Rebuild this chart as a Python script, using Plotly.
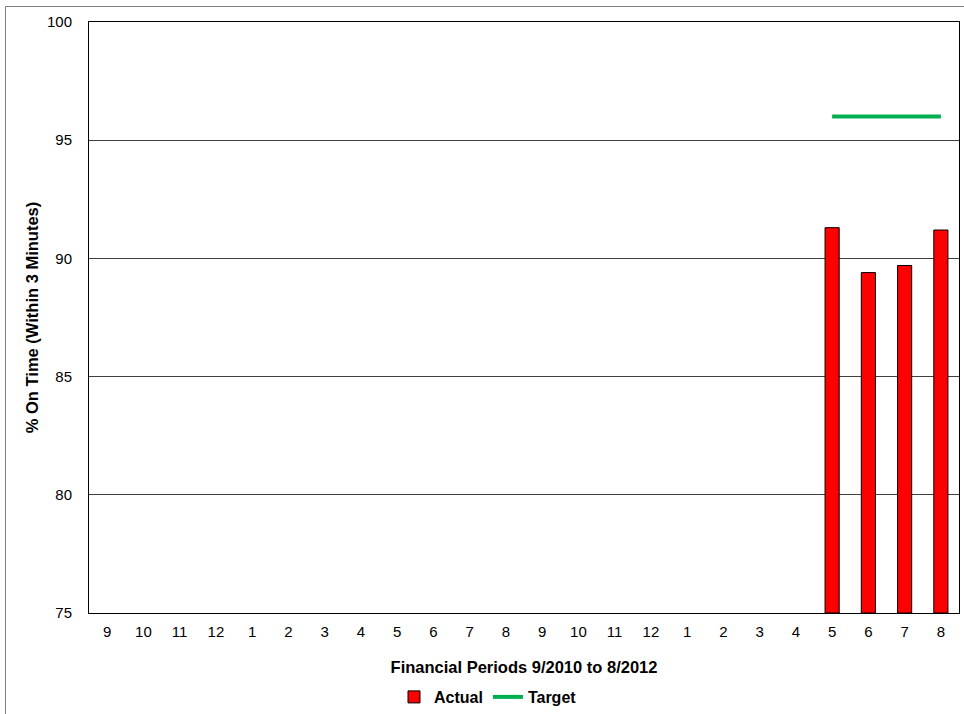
import plotly.graph_objects as go

# Financial periods 9/2010 .. 8/2012
periods = ["9", "10", "11", "12", "1", "2", "3", "4", "5", "6", "7", "8",
           "9", "10", "11", "12", "1", "2", "3", "4", "5", "6", "7", "8"]
actual = [None] * 20 + [91.3, 89.4, 89.7, 91.2]
target = [None] * 20 + [96, 96, 96, 96]

x = list(range(len(periods)))
FONT = "Liberation Sans, Arial, sans-serif"

fig = go.Figure()
fig.add_trace(go.Bar(
    x=x, y=[None if v is None else v - 75 for v in actual], base=75,
    name="Actual", width=0.39,
    marker=dict(color="#FF0000", line=dict(color="#000000", width=1)),
))
fig.add_trace(go.Scatter(
    x=x, y=target, name="Target", mode="lines",
    line=dict(color="#00B050", width=4),
))

W, H = 964, 714
L, R, T, B = 89, 5, 22, 101
pw, ph = W - L - R, H - T - B

def px_x(p):
    return (p - L) / pw

def px_y(p):
    return (H - B - p) / ph

fig.update_layout(
    width=W, height=H,
    margin=dict(l=L, r=R, t=T, b=B, autoexpand=False),
    paper_bgcolor="white", plot_bgcolor="white",
    font=dict(family=FONT, size=15, color="#000000"),
    showlegend=True,
    legend=dict(orientation="h", x=px_x(488), xanchor="center",
                y=px_y(697), yanchor="middle",
                font=dict(family=FONT, size=16, color="#000000", weight="bold"),
                itemwidth=30, tracegroupgap=0),
    bargap=0.6,
    xaxis=dict(
        range=[-0.5, 23.5], tickmode="array", tickvals=x, ticktext=periods,
        showgrid=False, zeroline=False, showline=True, linecolor="#000000",
        linewidth=1, mirror=True, ticks="", ticklabelstandoff=5,
        tickfont=dict(size=15), automargin=False,
        title=dict(text="Financial Periods 9/2010 to 8/2012",
                   font=dict(size=16.5, weight="bold"), standoff=22),
    ),
    yaxis=dict(
        range=[75, 100], tickvals=[75, 80, 85, 90, 95, 100],
        showgrid=True, gridcolor="#404040", gridwidth=1,
        zeroline=False, showline=True, linecolor="#000000", linewidth=1,
        mirror=True, ticks="", ticklabelstandoff=13,
        tickfont=dict(size=15), automargin=False,
        title=dict(text="% On Time (Within 3 Minutes)",
                   font=dict(size=16.5, weight="bold"), standoff=4),
    ),
    shapes=[dict(
        type="rect", xref="paper", yref="paper",
        x0=px_x(5.5), x1=px_x(975), y0=px_y(725), y1=px_y(6.5),
        line=dict(color="#808080", width=1), fillcolor="rgba(0,0,0,0)",
        layer="below",
    )],
)

fig.write_html("out.html")
